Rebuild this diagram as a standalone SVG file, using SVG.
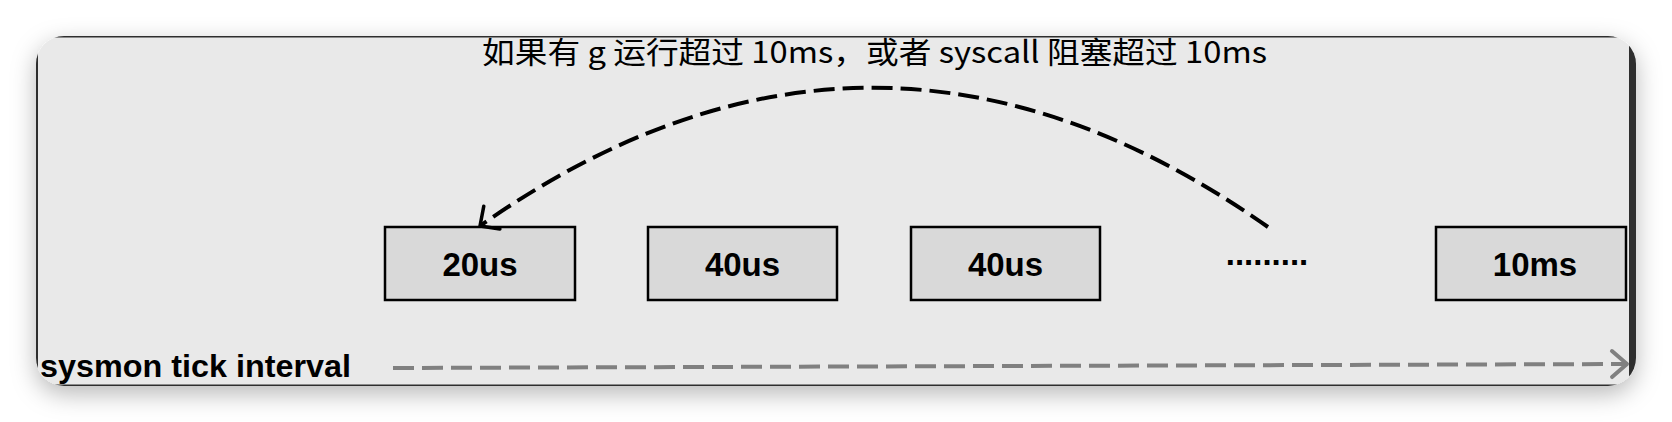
<svg xmlns="http://www.w3.org/2000/svg" width="1672" height="422" viewBox="0 0 1672 422">
<style>
.box{fill:#d9d9d9;stroke:#000;stroke-width:2.5}
.lbl{font-family:"Liberation Sans",Arial,sans-serif;font-weight:bold;font-size:33px;fill:#000;text-anchor:middle}
.title{font-family:"Noto Sans CJK SC","Noto Sans",sans-serif;font-size:30px;fill:#000}
.axis{font-family:"Liberation Sans",Arial,sans-serif;font-weight:bold;font-size:32px;fill:#000}
.border{stroke:#2e2e2e;fill:none}
.arc{fill:none;stroke:#000;stroke-width:4;stroke-dasharray:21 8}
.tick{fill:none;stroke:#808080;stroke-width:4;stroke-dasharray:21 8}
</style>
<defs>
<clipPath id="panelClip"><rect x="36" y="36" width="1600" height="350" rx="28" ry="28"/></clipPath>
<filter id="shadow" x="-5%" y="-30%" width="110%" height="170%">
<feDropShadow dx="0" dy="8" stdDeviation="12" flood-color="#000" flood-opacity="0.28"/>
</filter>
<marker id="headBlack" markerUnits="userSpaceOnUse" markerWidth="40" markerHeight="40" refX="0" refY="0" viewBox="-20 -20 40 40" orient="auto" overflow="visible">
<path d="M -14.5,-14 L 0,0 L -14.5,14" fill="none" stroke="#000" stroke-width="3.5" stroke-linecap="round" stroke-linejoin="round"/>
</marker>
<marker id="headGray" markerUnits="userSpaceOnUse" markerWidth="40" markerHeight="40" refX="0" refY="0" viewBox="-20 -20 40 40" orient="auto" overflow="visible">
<path d="M -15,-13 L 0,0 L -15,13" fill="none" stroke="#808080" stroke-width="4" stroke-linecap="round" stroke-linejoin="round"/>
</marker>
</defs>
<rect width="1672" height="422" fill="#ffffff"/>
<rect x="36" y="36" width="1600" height="350" rx="28" ry="28" fill="#e9e9e9" filter="url(#shadow)"/>
<g clip-path="url(#panelClip)">
<g id="frame">
<line class="border" x1="30" y1="36.7" x2="1640" y2="36.7" stroke-width="1.5"/>
<line class="border" x1="37" y1="30" x2="37" y2="392" stroke-width="2"/>
<line class="border" x1="30" y1="385.2" x2="1640" y2="385.2" stroke-width="1.5"/>
<rect x="1629" y="30" width="8" height="362" fill="#2e2e2e"/>
</g>
<g id="title">
<text class="title" x="482" y="63" textLength="785" lengthAdjust="spacingAndGlyphs">如果有 g 运行超过 10ms，或者 syscall 阻塞超过 10ms</text>
</g>
<g id="node-20us">
<rect class="box" x="385" y="227" width="190" height="73"/>
<text class="lbl" x="480" y="276">20us</text>
</g>
<g id="node-40us-a">
<rect class="box" x="648" y="227" width="189" height="73"/>
<text class="lbl" x="742.5" y="276">40us</text>
</g>
<g id="node-40us-b">
<rect class="box" x="911" y="227" width="189" height="73"/>
<text class="lbl" x="1005.5" y="276">40us</text>
</g>
<g id="node-dots">
<text class="lbl" x="1267" y="265">.........</text>
</g>
<g id="node-10ms">
<rect class="box" x="1436" y="227" width="190" height="73"/>
<text class="lbl" x="1535" y="276">10ms</text>
</g>
<g id="axis-label">
<text class="axis" x="40" y="377" textLength="311" lengthAdjust="spacingAndGlyphs">sysmon tick interval</text>
</g>
<g id="connectors">
<path class="arc" d="M 1268,227 Q 873,-51 480,226" marker-end="url(#headBlack)"/>
<path class="tick" d="M 393,368 L 1627,364" marker-end="url(#headGray)"/>
</g>
</g>
</svg>
